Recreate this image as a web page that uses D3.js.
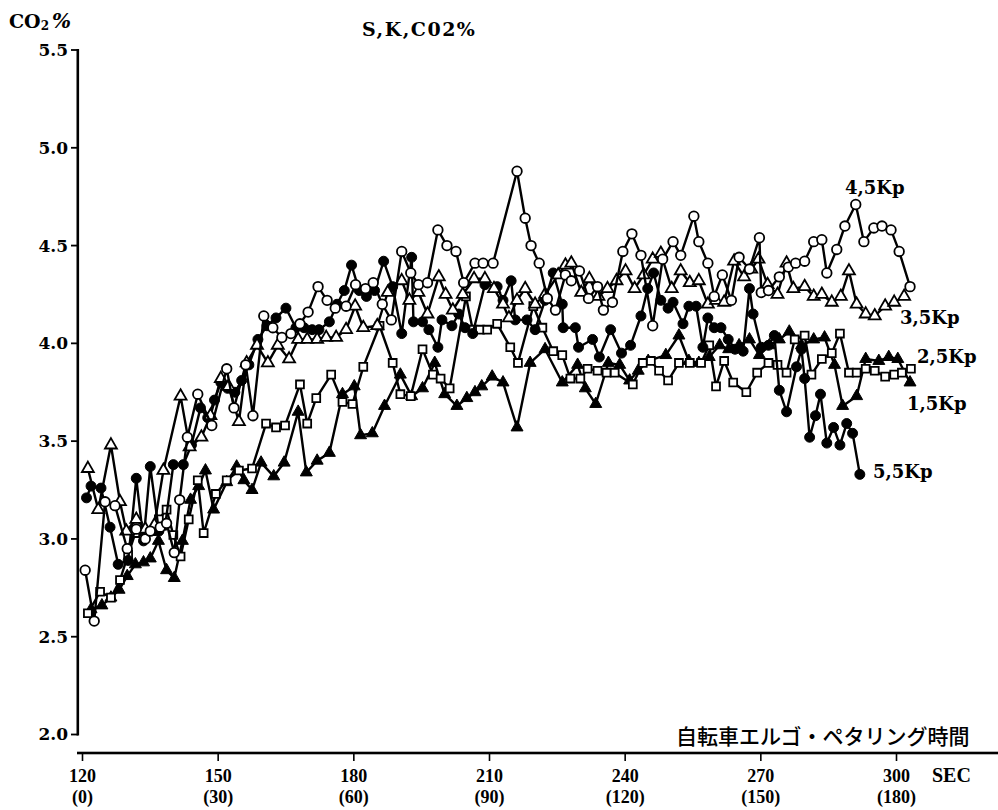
<!DOCTYPE html>
<html><head><meta charset="utf-8">
<script src="https://cdn.jsdelivr.net/npm/d3@7"></script>
<style>body{margin:0;background:#fff}</style>
</head><body>
<svg id="c" width="998" height="810"></svg>
<script>
// ---- data ----
const xTicks = [120,150,180,210,240,270,300];
const xSubLabels = ["(0)","(30)","(60)","(90)","(120)","(150)","(180)"];
const yTicks = [2.0,2.5,3.0,3.5,4.0,4.5,5.0,5.5];

// 4,5Kp (open circles)
const t45 = [120.7,122.7,125.1,127.3,130,132,134,135.1,137.3,138.7,140.4,141.6,143.3,145.6,148.7,152,153.6,156.2,157.8,160.2,162.2,164.2,166.2,168.2,170,172.2,174.2,176,178.4,180.5,182.7,184.4,186.4,188.4,190.7,192.7,194.4,196.4,198.7,200.7,202.7,204.4,206.9,208.7,210.9,216.2,218,219.3,221.1,222.9,224.7,226.9,228.2,230,232,234,235.3,237.3,239.6,241.6,243.6,246.2,248.4,250.7,252.4,255.3,256.4,258.4,259.8,261.6,263.6,265.3,267.6,269.8,270.2,271.8,274.2,276.2,277.8,279.8,281.8,283.6,284.7,286.9,288.7,291.1,292.9,295.1,296.9,298.9,300.7,303.1];
const v45 = [2.84,2.58,3.19,3.17,2.95,3.05,3.00,3.04,3.06,3.08,2.93,3.20,3.52,3.74,3.58,3.87,3.67,3.89,3.63,4.14,4.08,4.03,4.05,4.10,4.16,4.29,4.22,4.18,4.19,4.30,4.28,4.31,4.20,4.12,4.47,4.36,4.30,4.31,4.58,4.50,4.47,4.31,4.41,4.41,4.41,4.88,4.64,4.50,4.41,4.23,4.17,4.35,4.32,4.37,4.23,4.29,4.17,4.21,4.47,4.56,4.45,4.09,4.43,4.52,4.45,4.65,4.52,4.41,4.24,4.35,4.22,4.44,4.38,4.54,4.26,4.27,4.34,4.39,4.41,4.42,4.52,4.53,4.36,4.48,4.60,4.71,4.52,4.59,4.60,4.58,4.47,4.29];

// 3,5Kp (open triangles)
const t35 = [121.3,123.6,126.4,128.4,129.8,132,134,136,138,141.8,143.8,146.4,148.4,150.7,152.4,154.7,156.4,158.7,161.1,163.3,165.8,167.8,169.8,172,174,176.2,178.4,180.4,182.2,185.3,187.6,190.7,192.4,194.4,196.4,198.9,200.4,202,204.2,206.7,209.1,211.1,213.1,214.4,216.2,218,220.2,222.4,225.3,226.9,228.2,230.4,232.2,234.2,236.2,238.2,240.2,242.2,244.2,246.2,248,250.4,252.4,254.4,256.4,258.4,260.2,262,264.2,266.4,268,269.6,271.6,273.8,275.8,277.3,279.8,281.8,283.6,285.8,287.8,289.6,291.3,293.3,295.3,297.6,299.6,301.8];
const v35 = [3.36,3.15,3.48,3.19,3.04,3.10,3.05,3.07,3.35,3.73,3.47,3.52,3.63,3.82,3.78,3.60,3.90,3.99,3.90,3.99,3.92,4.02,4.02,4.02,4.03,4.03,4.07,4.19,4.08,4.09,4.26,4.32,4.22,4.26,4.15,4.34,4.25,4.17,4.25,4.33,4.33,4.28,4.20,4.13,4.22,4.28,4.20,4.25,4.35,4.40,4.41,4.26,4.33,4.24,4.28,4.32,4.37,4.28,4.35,4.43,4.46,4.28,4.37,4.31,4.32,4.20,4.22,4.21,4.42,4.34,4.38,4.43,4.30,4.25,4.41,4.28,4.29,4.24,4.25,4.21,4.24,4.37,4.20,4.15,4.14,4.19,4.21,4.24];

// 5,5Kp (filled circles)
const t55 = [121.0,122.0,124.2,126.2,128.0,130.2,132.0,133.6,135.1,137.0,138.4,140.2,142.4,144.2,146.2,147.8,149.3,150.7,152.2,153.8,155.3,156.9,158.9,160.9,162.9,165.1,167.3,169.1,170.9,172.4,174.7,176.4,178.0,179.6,181.3,182.9,184.7,186.7,188.7,190.7,192.9,193.3,195.3,196.7,198.7,199.6,201.8,203.3,204.7,206.4,209.1,211.8,213.1,214.9,215.8,218.4,220.2,222.4,224.2,226.2,226.4,229.1,229.8,232.9,234.4,236.9,239.3,241.3,243.6,245.1,246.4,248.0,249.6,250.7,252.9,254.2,255.8,257.3,258.4,259.8,261.3,262.9,264.4,266.2,267.6,268.4,270.2,271.8,273.1,274.2,275.8,278.0,279.1,279.8,280.9,282.2,283.3,284.7,286.2,287.6,289.1,290.4,292.0];
const v55 = [3.21,3.27,3.26,3.06,2.87,2.89,3.31,2.99,3.37,3.04,3.07,3.38,3.38,3.48,3.67,3.62,3.71,3.80,3.77,3.75,3.81,3.89,4.02,4.09,4.13,4.18,4.08,4.08,4.07,4.07,4.11,4.20,4.27,4.40,4.27,4.24,4.27,4.42,4.29,4.05,4.44,4.11,4.11,4.07,3.98,4.12,4.09,4.15,4.08,4.05,4.30,4.29,4.22,4.32,4.12,4.12,4.07,4.22,4.36,4.20,4.08,4.08,3.98,4.02,3.93,4.07,3.95,3.99,4.14,4.28,4.36,4.22,4.18,4.21,4.10,4.19,4.19,3.98,4.13,4.08,4.08,4.02,3.97,3.96,4.28,4.15,3.98,3.99,4.04,3.76,3.65,3.88,3.97,3.82,3.52,3.63,3.74,3.49,3.57,3.48,3.59,3.54,3.33];

// 2,5Kp (open squares)
const t25 = [121.3,124.0,126.4,128.4,130.2,131.8,133.6,135.3,137.0,138.7,140.2,141.8,143.6,145.6,146.9,149.6,152.0,154.7,157.6,160.7,162.9,164.9,168.2,169.8,171.8,175.1,177.6,179.8,182.2,185.8,188.7,190.4,192.7,195.3,197.6,199.3,201.3,204.9,206.4,208.0,209.6,211.8,214.7,216.4,219.8,221.8,224.2,226.2,228.0,230.2,231.8,234.0,236.0,237.8,241.8,244.0,245.8,247.6,249.6,252.0,254.4,256.9,258.7,260.2,262.0,264.0,266.9,269.3,271.8,273.8,275.8,277.6,279.8,281.3,283.6,285.8,287.6,289.6,291.3,293.3,295.3,297.6,299.6,301.3,303.3];
const v25 = [2.62,2.73,2.70,2.79,2.92,3.03,3.04,3.04,3.10,3.15,3.02,2.91,3.10,3.30,3.03,3.23,3.30,3.35,3.36,3.59,3.57,3.58,3.79,3.59,3.72,3.84,3.70,3.69,3.88,4.09,3.90,3.74,3.73,3.97,3.84,3.82,3.77,4.24,4.07,4.07,4.07,4.10,3.98,3.90,4.19,4.08,3.96,3.94,3.82,3.82,3.87,3.86,3.85,3.85,3.79,3.90,3.91,3.86,3.81,3.90,3.90,3.90,3.99,3.78,3.91,3.80,3.75,3.85,3.90,3.89,3.85,4.02,4.04,3.84,3.92,3.95,4.05,3.85,3.85,3.87,3.86,3.83,3.84,3.85,3.87];

// 1,5Kp (filled triangles)
const t15 = [122.0,124.4,126.4,128.2,130.0,131.8,133.6,135.1,136.9,138.7,140.4,142.2,144.0,145.8,147.3,149.1,152.0,154.2,155.8,157.6,159.6,162.4,164.7,167.8,169.6,172.0,174.7,177.6,180.2,181.6,184.2,186.9,190.4,192.9,195.3,198.0,200.2,202.9,205.1,206.9,208.4,210.7,213.1,216.2,219.1,222.4,226.2,229.6,231.3,233.6,236.4,238.9,241.1,243.0,245.2,249.1,252.0,254.2,256.4,258.7,261.0,263.0,265.3,267.6,269.8,272.0,274.2,276.4,279.1,281.8,284.2,286.4,288.2,291.3,293.3,296.2,298.4,300.4,303.1];
const v15 = [2.64,2.66,2.70,2.74,2.81,2.87,2.88,2.90,2.99,2.84,2.80,2.99,3.20,3.27,3.35,3.15,3.29,3.37,3.30,3.25,3.39,3.32,3.39,3.65,3.34,3.40,3.44,3.74,3.78,3.53,3.54,3.68,3.84,3.73,3.77,3.90,3.74,3.68,3.72,3.75,3.78,3.83,3.80,3.57,3.90,3.97,3.80,3.89,3.77,3.69,3.90,3.89,3.81,3.86,3.91,3.94,4.04,3.91,3.90,3.93,3.99,3.97,3.99,4.02,3.94,3.99,4.02,4.06,3.99,4.02,4.03,3.89,3.68,3.73,3.92,3.91,3.93,3.92,3.80];

const seriesLabels = ["1,5Kp","2,5Kp","5,5Kp","3,5Kp","4,5Kp"];

// ---- drawing ----
const svg = d3.select("#c");
const x = d3.scaleLinear().domain([120,300]).range([82,896]);
const y = d3.scaleLinear().domain([2,5.5]).range([734.5,50]);
const SERIF = "'DejaVu Serif', serif";
const LSERIF = "'Liberation Serif', serif";

// y axis drawn first with the library's axis generator
const gy = svg.append("g").attr("transform","translate(78,0)")
  .call(d3.axisLeft(y).tickValues(yTicks).tickSize(7).tickSizeOuter(0).tickPadding(3).tickFormat(d3.format(".1f")));
gy.select(".domain").remove();
gy.selectAll(".tick line").remove();
gy.selectAll(".tick text").attr("font-family",SERIF).attr("font-weight","bold")
  .attr("font-size",17).attr("fill","#000");
// axis spine and tick marks as solid rectangles
svg.append("rect").attr("x",76.5).attr("y",y(5.5)-1).attr("width",2.6)
  .attr("height",y(2)-y(5.5)+2).attr("fill","#000");
svg.selectAll("rect.ytk").data(yTicks).join("rect").attr("class","ytk")
  .attr("x",71).attr("y",d=>y(d)-0.9).attr("width",7).attr("height",1.8).attr("fill","#000");

const series = [
  {t:t15, v:v15, sym:d3.symbolTriangle, size:62, filled:true,  label:seriesLabels[0], lx:907, ly:410},
  {t:t25, v:v25, sym:d3.symbolSquare,   size:62, filled:false, label:seriesLabels[1], lx:917, ly:363},
  {t:t55, v:v55, sym:d3.symbolCircle,   size:78, filled:true,  label:seriesLabels[2], lx:873, ly:478},
  {t:t35, v:v35, sym:d3.symbolTriangle, size:62, filled:false, label:seriesLabels[3], lx:900, ly:324},
  {t:t45, v:v45, sym:d3.symbolCircle,   size:72, filled:false, label:seriesLabels[4], lx:845, ly:194}
];

const line = d3.line().x(d=>x(d.t)).y(d=>y(d.v));

series.forEach(s=>{
  const pts = s.t.map((t,i)=>({t:t, v:s.v[i]}));
  svg.append("path").datum(pts).attr("d", line)
    .attr("fill","none").attr("stroke","#000").attr("stroke-width",2.4)
    .attr("stroke-linejoin","round");
  svg.append("g").selectAll("path").data(pts).join("path")
    .attr("d", d3.symbol().type(s.sym).size(s.size))
    .attr("transform", d=>`translate(${x(d.t)},${y(d.v)})`)
    .attr("fill", s.filled ? "#000" : "#fff")
    .attr("stroke","#000").attr("stroke-width", s.filled ? 1 : 1.8);
  svg.append("text").attr("x", s.lx).attr("y", s.ly)
    .attr("font-family", SERIF).attr("font-weight","bold").attr("font-size",18)
    .attr("fill","#000").text(s.label);
});

// x axis
const gx = svg.append("g").attr("transform","translate(0,753)")
  .call(d3.axisBottom(x).tickValues(xTicks).tickSize(8).tickSizeOuter(0).tickFormat(""));
gx.select(".domain").remove();
gx.selectAll(".tick line").attr("stroke","#000").attr("stroke-width",1.6);
gx.selectAll(".tick").each(function(d,i){
  const g = d3.select(this);
  g.append("text").attr("y",29).attr("text-anchor","middle").attr("fill","#000")
    .attr("font-family",LSERIF).attr("font-weight","bold").attr("font-size",18).text(d);
  g.append("text").attr("y",50).attr("text-anchor","middle").attr("fill","#000")
    .attr("font-family",LSERIF).attr("font-weight","bold").attr("font-size",18).text(xSubLabels[i]);
});
svg.append("rect").attr("x",77).attr("y",751.7).attr("width",921).attr("height",2.6).attr("fill","#000");

// texts
svg.append("text").attr("x",932).attr("y",782).attr("font-family",LSERIF)
  .attr("font-weight","bold").attr("font-size",20).attr("fill","#000").text("SEC");
svg.append("text").attr("x",676).attr("y",744)
  .attr("font-family","'Noto Sans CJK JP', sans-serif").attr("font-weight",500)
  .attr("font-size",21).attr("fill","#000").text("自転車エルゴ・ペタリング時間");
svg.append("text").attr("x",362).attr("y",36).attr("font-family",SERIF)
  .attr("font-weight","bold").attr("font-size",19).attr("letter-spacing",1.5)
  .attr("fill","#000").text("S,K,C02%");
const yl = svg.append("text").attr("x",9).attr("y",28).attr("font-family",SERIF)
  .attr("font-weight","bold").attr("font-size",19).attr("fill","#000");
yl.append("tspan").text("CO");
yl.append("tspan").attr("font-size",12).attr("dy",2).text("2");
yl.append("tspan").attr("dy",-2).attr("dx",3).attr("font-style","italic").attr("font-size",20).text("%");
</script>
</body></html>
